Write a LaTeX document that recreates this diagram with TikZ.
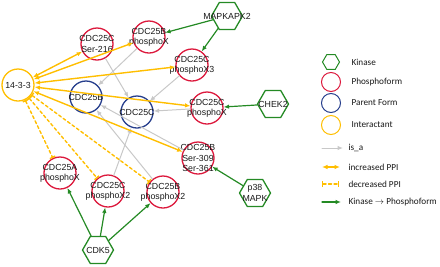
\documentclass[tikz,border=0pt]{standalone}
\usepackage{fontspec}
\setmainfont{Liberation Sans}
\newfontfamily\legendfont{Carlito}
\usetikzlibrary{arrows.meta,shapes.geometric}
\definecolor{phred}{RGB}{220,24,60}
\definecolor{parblue}{RGB}{38,62,140}
\definecolor{ppiyel}{RGB}{255,190,0}
\definecolor{kingreen}{RGB}{36,138,36}
\definecolor{isagray}{RGB}{200,200,200}

\begin{document}
\begin{tikzpicture}[x=1pt,y=-1pt,>={Latex[length=5.5pt,width=4.5pt]},line cap=round,
  nodetext/.style={font=\fontsize{8.8}{10.2}\selectfont,text=black!90,align=center},
  phospho/.style={circle,draw=phred,line width=1.3pt,minimum size=32pt,inner sep=0pt},
  parent/.style={circle,draw=parblue,line width=1.3pt,minimum size=32pt,inner sep=0pt},
  interact/.style={circle,draw=ppiyel,line width=1.3pt,minimum size=32pt,inner sep=0pt},
  kinase/.style={regular polygon,regular polygon sides=6,draw=kingreen,line width=1.3pt,minimum size=31pt,inner sep=0pt},
  isa/.style={->,isagray,line width=1pt},
  incppi/.style={<->,ppiyel,line width=1.4pt},
  decppi/.style={{Bar[width=6pt]}-{Bar[width=6pt]},ppiyel,line width=1.4pt,dash pattern=on 3pt off 2.5pt},
  phos/.style={->,kingreen,line width=1.2pt},
  legtext/.style={anchor=west,font=\legendfont\fontsize{9.2}{11}\selectfont,text=black!90}]
\useasboundingbox (0,0) rectangle (440,266);
\node[interact,label={[nodetext]center:14-3-3}] (i1433) at (18,85) {};
\node[phospho,label={[nodetext]center:{CDC25C\\Ser-216}}] (c25cS216) at (97,44) {};
\node[phospho,label={[nodetext]center:{CDC25B\\phosphoX}}] (c25bX) at (149,37) {};
\node[phospho,label={[nodetext]center:{CDC25C\\phosphoX3}}] (c25cX3) at (192,65) {};
\node[phospho,label={[nodetext]center:{CDC25C\\phosphoX}}] (c25cX) at (207,108) {};
\node[phospho,label={[nodetext]center:{CDC25B\\Ser-309\\Ser-361}}] (c25bS309) at (198,158) {};
\node[phospho,label={[nodetext]center:{CDC25A\\phosphoX}}] (c25aX) at (60,173) {};
\node[phospho,label={[nodetext]center:{CDC25C\\phosphoX2}}] (c25cX2) at (108,191) {};
\node[phospho,label={[nodetext]center:{CDC25B\\phosphoX2}}] (c25bX2) at (163,192) {};
\node[parent,label={[nodetext]center:CDC25B}] (c25b) at (86,97) {};
\node[parent,label={[nodetext]center:CDC25C}] (c25c) at (137,112) {};
\node[kinase,label={[nodetext]center:MAPKAPK2}] (mapkapk2) at (227,16) {};
\node[kinase,label={[nodetext]center:CHEK2}] (chek2) at (273,104) {};
\node[kinase,label={[nodetext]center:{p38\\MAPK}}] (p38) at (255,193) {};
\node[kinase,label={[nodetext]center:CDK5}] (cdk5) at (98,250) {};
\draw[isa] (c25cS216) -- (c25c);
\draw[isa] (c25bX) -- (c25b);
\draw[isa] (c25cX3) -- (c25c);
\draw[isa] (c25cX) -- (c25c);
\draw[isa] (c25bS309) -- (c25b);
\draw[isa] (c25cX2) -- (c25c);
\draw[isa] (c25bX2) -- (c25b);
\draw[incppi] (i1433) -- (c25cS216);
\draw[incppi] (i1433) -- (c25bX);
\draw[incppi] (i1433) -- (c25cX3);
\draw[incppi] (i1433) -- (c25cX);
\draw[incppi] (i1433) -- (c25bS309);
\draw[decppi] (i1433) -- (c25aX);
\draw[decppi] (i1433) -- (c25cX2);
\draw[decppi] (i1433) -- (c25bX2);
\draw[phos] (mapkapk2) -- (c25bX);
\draw[phos] (mapkapk2) -- (c25cX3);
\draw[phos] (chek2) -- (c25cX);
\draw[phos] (p38) -- (c25bS309);
\draw[phos] (cdk5) -- (c25aX);
\draw[phos] (cdk5) -- (c25cX2);
\draw[phos] (cdk5) -- (c25bX2);
\node[kinase,minimum size=17pt,line width=1pt] (legkin) at (331,62) {};
\node[phospho,minimum size=19pt,line width=1pt] (legph) at (331,82) {};
\node[parent,minimum size=19pt,line width=1pt] (legpar) at (331,103) {};
\node[interact,minimum size=19pt,line width=1pt] (legint) at (331,125) {};
\node[legtext] (tkin) at (348,62) {Kinase};
\node[legtext] (tph) at (348,82) {Phosphoform};
\node[legtext] (tpar) at (348,103) {Parent Form};
\node[legtext] (tint) at (348,125) {Interactant};
\coordinate (isaA) at (322,148);
\coordinate (isaB) at (343,148);
\coordinate (incA) at (322,167);
\coordinate (incB) at (340,167);
\coordinate (decA) at (322,184);
\coordinate (decB) at (339,184);
\coordinate (phA) at (322,202);
\coordinate (phB) at (341,202);
\draw[isa] (isaA) -- (isaB);
\draw[incppi] (incA) -- (incB);
\draw[decppi] (decA) -- (decB);
\draw[phos] (phA) -- (phB);
\node[legtext] (tisa) at (345,148) {is\_a};
\node[legtext] (tinc) at (345,167) {increased PPI};
\node[legtext] (tdec) at (345,184) {decreased PPI};
\node[legtext] (tkp) at (345,202) {Kinase $\rightarrow$ Phosphoform};
\end{tikzpicture}
\end{document}
